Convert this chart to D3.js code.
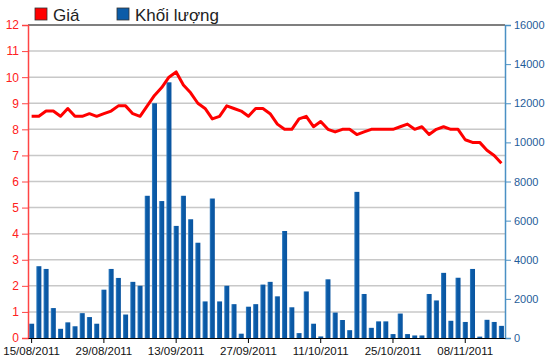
<!DOCTYPE html>
<html lang="vi">
<head>
    <meta charset="UTF-8">
    <title>Giá và khối lượng</title>
    <script src="https://d3js.org/d3.v7.min.js"></script>
    <style>
        body { margin: 0; background: #fff; }
        text { font-family: "Liberation Sans", Arial, sans-serif; }
    </style>
</head>
<body>
<script>
// trading-day tick labels (every 10th session)
const tickLabels = ["15/08/2011", "29/08/2011", "13/09/2011", "27/09/2011", "11/10/2011", "25/10/2011", "08/11/2011"];

// closing price (thousand VND), one per session
const prices = [8.5, 8.5, 8.7, 8.7, 8.5, 8.8, 8.5, 8.5, 8.6, 8.5,
    8.6, 8.7, 8.9, 8.9, 8.6, 8.5, 8.9, 9.3, 9.6, 10.0,
    10.2, 9.7, 9.4, 9.0, 8.8, 8.4, 8.5, 8.9, 8.8, 8.7,
    8.5, 8.8, 8.8, 8.6, 8.2, 8.0, 8.0, 8.4, 8.5, 8.1,
    8.3, 8.0, 7.9, 8.0, 8.0, 7.8, 7.9, 8.0, 8.0, 8.0,
    8.0, 8.1, 8.2, 8.0, 8.1, 7.8, 8.0, 8.1, 8.0, 8.0,
    7.6, 7.5, 7.5, 7.2, 7.0, 6.7];

// volume, one per session
const volumes = [730, 3670, 3530, 1530, 470, 800, 600, 1270, 1070, 730,
    2470, 3530, 3070, 1200, 2870, 2670, 7270, 12000, 7000, 13070,
    5730, 7270, 6070, 4870, 1870, 7130, 1870, 2670, 1730, 220,
    1600, 1730, 2730, 2870, 2130, 5470, 1570, 250, 2380, 730,
    80, 3000, 1300, 920, 400, 7470, 2250, 520, 850, 850,
    200, 1250, 200, 130, 130, 2250, 1920, 3330, 880, 3080,
    820, 3530, 70, 930, 820, 620];

const priceTicks = d3.range(0, 13);
const volumeTicks = d3.range(0, 16001, 2000);

const W = 550, H = 364;
const plotL = 28, plotR = 505, plotT = 25, plotB = 338;

const svg = d3.select("body").append("svg")
    .attr("width", W)
    .attr("height", H);

const x = d3.scaleBand().domain(d3.range(prices.length)).range([plotL, plotR])
    .paddingInner(0.3).paddingOuter(0.15);
const yP = d3.scaleLinear().domain([0, 12]).range([plotB, plotT]);
const yV = d3.scaleLinear().domain([0, 16000]).range([plotB, plotT]);

// bar gradient
const grad = svg.append("defs").append("linearGradient").attr("id", "barGrad");
grad.append("stop").attr("offset", "0%").attr("stop-color", "#3f86c8");
grad.append("stop").attr("offset", "30%").attr("stop-color", "#0b5ca8");
grad.append("stop").attr("offset", "100%").attr("stop-color", "#0a54a0");

// gridlines
svg.append("g").selectAll("line")
    .data(priceTicks.filter(d => d > 0 && d < 12))
    .join("line")
    .attr("x1", plotL).attr("x2", plotR)
    .attr("y1", d => yP(d)).attr("y2", d => yP(d))
    .attr("stroke", "#c8c8c8").attr("stroke-width", 1.5);

// top border
svg.append("line")
    .attr("x1", plotL).attr("x2", plotR)
    .attr("y1", yP(12)).attr("y2", yP(12))
    .attr("stroke", "#000").attr("stroke-width", 1.2);

// volume bars
svg.append("g").selectAll("rect")
    .data(volumes)
    .join("rect")
    .attr("x", (d, i) => x(i))
    .attr("y", d => yV(d))
    .attr("width", x.bandwidth())
    .attr("height", d => plotB - yV(d))
    .attr("fill", "url(#barGrad)");

// price line
const line = d3.line()
    .x((d, i) => x(i) + x.bandwidth() / 2)
    .y(d => yP(d));

svg.append("path")
    .datum(prices)
    .attr("fill", "none")
    .attr("stroke", "#ff0000")
    .attr("stroke-width", 3)
    .attr("stroke-linejoin", "round")
    .attr("d", line);

// left axis (price)
const gL = svg.append("g")
    .attr("transform", `translate(${plotL},0)`)
    .call(d3.axisLeft(yP).tickValues(priceTicks).tickSize(6).tickPadding(3));
gL.select(".domain").attr("stroke", "#ff4444").attr("stroke-width", 1.5);
gL.selectAll(".tick line").attr("stroke", "#ff4444");
gL.selectAll("text").attr("fill", "#ff2020").attr("font-size", 12);

// right axis (volume)
const gR = svg.append("g")
    .attr("transform", `translate(${plotR},0)`)
    .call(d3.axisRight(yV).tickValues(volumeTicks).tickSize(6).tickFormat(d3.format("d")).tickPadding(3));
gR.select(".domain").attr("stroke", "#4a90c4").attr("stroke-width", 1.5);
gR.selectAll(".tick line").attr("stroke", "#4a90c4");
gR.selectAll("text").attr("fill", "#1f5c99").attr("font-size", 11);

// bottom axis (dates)
const gB = svg.append("g")
    .attr("transform", `translate(0,${plotB})`)
    .call(d3.axisBottom(x)
        .tickValues(d3.range(0, prices.length, 10))
        .tickFormat(i => tickLabels[i / 10])
        .tickSize(5).tickSizeOuter(0).tickPadding(4));
gB.select(".domain").attr("stroke", "#000").attr("stroke-width", 1.2);
gB.selectAll("text").attr("fill", "#111").attr("font-size", 11.5);

// legend
const legend = [{label: "Giá", color: "#ff0000", x: 35}, {label: "Khối lượng", color: "#0b5ca8", x: 117}];
const lg = svg.append("g").selectAll("g").data(legend).join("g")
    .attr("transform", d => `translate(${d.x},8)`);
lg.append("rect")
    .attr("width", 12).attr("height", 12)
    .attr("fill", d => d.color)
    .attr("stroke", "#333").attr("stroke-width", 0.8);
lg.append("text")
    .attr("x", 18).attr("y", 13)
    .attr("font-size", 17)
    .attr("fill", "#222")
    .text(d => d.label);
</script>
</body>
</html>
